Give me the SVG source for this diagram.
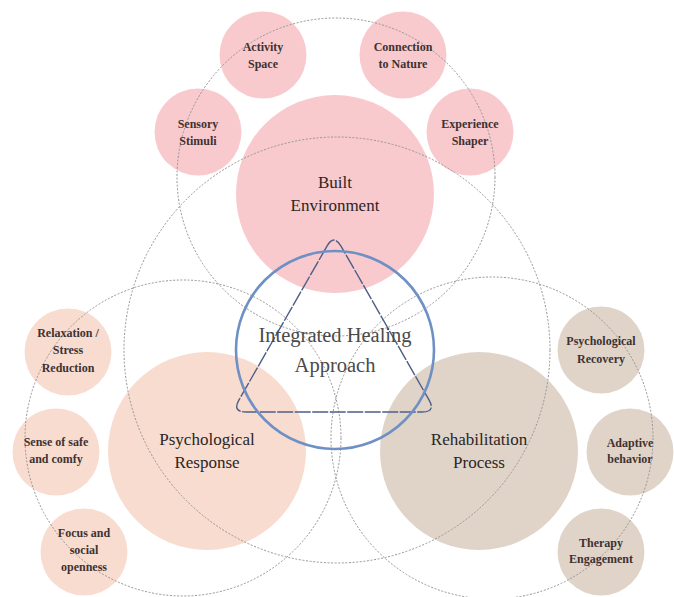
<svg xmlns="http://www.w3.org/2000/svg" width="674" height="597" viewBox="0 0 674 597">
<style>
.pink{fill:#f8cacd}
.peach{fill:#f8dccf}
.taupe{fill:#e0d4c9}
.ring{fill:none;stroke:#959595;stroke-width:1;stroke-dasharray:2 1.6}
.main{font-family:"Liberation Serif","Times New Roman",serif;font-size:17px;fill:#2a2525;text-anchor:middle}
.small{font-family:"Liberation Serif","Times New Roman",serif;font-size:12px;font-weight:bold;fill:#3d3232;text-anchor:middle}
.center{font-family:"Liberation Serif","Times New Roman",serif;font-size:20.5px;fill:#4a4a4a;text-anchor:middle}
</style>
<rect width="674" height="597" fill="#ffffff"/>

<g id="node-built-environment">
<circle class="pink" cx="335" cy="194" r="99"/>
</g>
<g id="node-activity-space"><circle class="pink" cx="263" cy="55" r="43.5"/></g>
<g id="node-connection-to-nature"><circle class="pink" cx="403" cy="55" r="43.5"/></g>
<g id="node-sensory-stimuli"><circle class="pink" cx="198" cy="132" r="43.5"/></g>
<g id="node-experience-shaper"><circle class="pink" cx="470" cy="132" r="43.5"/></g>

<g id="node-psychological-response"><circle class="peach" cx="207" cy="451" r="99"/></g>
<g id="node-relaxation"><circle class="peach" cx="68" cy="352" r="43.5"/></g>
<g id="node-sense-of-safe"><circle class="peach" cx="56" cy="452" r="43.5"/></g>
<g id="node-focus-social"><circle class="peach" cx="84" cy="552" r="43.5"/></g>

<g id="node-rehabilitation-process"><circle class="taupe" cx="479" cy="451" r="99"/></g>
<g id="node-psychological-recovery"><circle class="taupe" cx="601" cy="350" r="43.5"/></g>
<g id="node-adaptive-behavior"><circle class="taupe" cx="630" cy="452" r="43.5"/></g>
<g id="node-therapy-engagement"><circle class="taupe" cx="601" cy="552" r="43.5"/></g>

<g id="connectors">
<circle class="ring" cx="337" cy="350" r="213"/>
<circle class="ring" cx="336" cy="177" r="159"/>
<circle class="ring" cx="183" cy="438" r="158"/>
<circle class="ring" cx="492" cy="438" r="161"/>
<path d="M327,246.1 L239,399.9 Q232,412 246,412 L422,412 Q436,412 429,399.9 L341,246.1 Q334,234 327,246.1 Z" fill="none" stroke="#4e5d86" stroke-width="1.4" stroke-dasharray="16 1.5"/>
</g>

<g id="node-integrated-healing">
<circle cx="335" cy="350" r="99" fill="none" stroke="#6f90c4" stroke-width="2.6"/>
<text class="center" x="335" y="342">Integrated Healing</text>
<text class="center" x="335" y="372">Approach</text>
</g>

<g id="labels">
<text class="main" x="335" y="188">Built</text>
<text class="main" x="335" y="211">Environment</text>
<text class="main" x="207" y="445">Psychological</text>
<text class="main" x="207" y="468">Response</text>
<text class="main" x="479" y="445">Rehabilitation</text>
<text class="main" x="479" y="468">Process</text>

<text class="small" x="263" y="51">Activity</text>
<text class="small" x="263" y="68">Space</text>
<text class="small" x="403" y="51">Connection</text>
<text class="small" x="403" y="68">to Nature</text>
<text class="small" x="198" y="128">Sensory</text>
<text class="small" x="198" y="145">Stimuli</text>
<text class="small" x="470" y="128">Experience</text>
<text class="small" x="470" y="145">Shaper</text>

<text class="small" x="68" y="337">Relaxation /</text>
<text class="small" x="68" y="354">Stress</text>
<text class="small" x="68" y="372">Reduction</text>
<text class="small" x="56" y="446">Sense of safe</text>
<text class="small" x="56" y="463">and comfy</text>
<text class="small" x="84" y="537">Focus and</text>
<text class="small" x="84" y="554">social</text>
<text class="small" x="84" y="571">openness</text>

<text class="small" x="601" y="345">Psychological</text>
<text class="small" x="601" y="363">Recovery</text>
<text class="small" x="630" y="447">Adaptive</text>
<text class="small" x="630" y="463">behavior</text>
<text class="small" x="601" y="547">Therapy</text>
<text class="small" x="601" y="563">Engagement</text>
</g>
</svg>
